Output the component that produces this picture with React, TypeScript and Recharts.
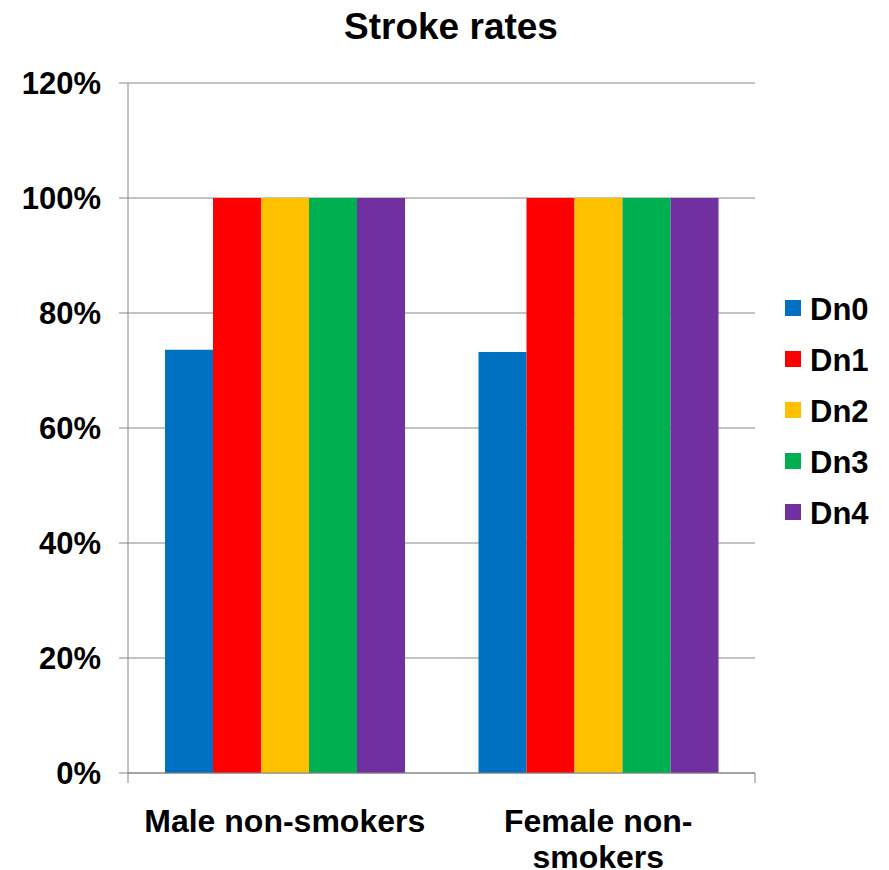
import { BarChart, Bar, XAxis, YAxis, CartesianGrid, Legend } from 'recharts';

const categories = ['Male non-smokers', 'Female non-smokers'];
// how Excel broke the long category names
const categoryLines: Record<string, string[]> = {
  'Male non-smokers': ['Male non-smokers'],
  'Female non-smokers': ['Female non-', 'smokers'],
};

const seriesNames = ['Dn0', 'Dn1', 'Dn2', 'Dn3', 'Dn4'];
const seriesColors = ['#0070C0', '#FF0000', '#FFC000', '#00B050', '#7030A0'];

const dn0 = [0.736, 0.732];
const dn1 = [1.0, 1.0];
const dn2 = [1.0, 1.0];
const dn3 = [1.0, 1.0];
const dn4 = [1.0, 1.0];

const yTicks = [0, 0.2, 0.4, 0.6, 0.8, 1.0, 1.2];

const FONT = '"Liberation Sans", Arial, Helvetica, sans-serif';
const GRID = '#868686';

// axis ids: recharts stacks bottom axes in id order, so the edge axis gets the first one
const EDGE_AXIS = 'a_edge';
const CAT_AXIS = 'b_cat';

const seriesValues = [dn0, dn1, dn2, dn3, dn4];
const data = categories.map((name, i) => {
  const row: Record<string, string | number> = { name };
  seriesNames.forEach((s, j) => {
    row[s] = seriesValues[j][i];
  });
  return row;
});

// tick positions on the category boundaries (0..n)
const edgeTicks = [...categories.map((_, i) => i), categories.length];

function CategoryTick(props: any) {
  const { x, y, payload } = props;
  const lines = categoryLines[payload.value] || [payload.value];
  return (
    <text
      x={x}
      y={y}
      textAnchor="middle"
      fontFamily={FONT}
      fontWeight="bold"
      fontSize={32}
      fill="#000"
    >
      {lines.map((l, i) => (
        <tspan key={i} x={x} dy={i === 0 ? '0.71em' : 36}>
          {l}
        </tspan>
      ))}
    </text>
  );
}

const NoLabel = () => <g />;

function LegendBox() {
  return (
    <div style={{ fontFamily: FONT, fontWeight: 'bold', fontSize: 31 }}>
      {seriesNames.map((s, i) => (
        <div key={s} style={{ display: 'flex', alignItems: 'center', height: 51 }}>
          <span
            style={{
              display: 'inline-block',
              width: 16,
              height: 16,
              background: seriesColors[i],
              marginRight: 9,
              marginTop: -3,
            }}
          />
          <span style={{ lineHeight: '31px', color: '#000' }}>{s}</span>
        </div>
      ))}
    </div>
  );
}

export default function App() {
  return (
    <div style={{ position: 'absolute', left: 0, top: 0, width: 889, height: 870, background: '#fff' }}>
      <div
        style={{
          position: 'absolute',
          left: 0,
          top: 8,
          width: 902,
          textAlign: 'center',
          fontFamily: FONT,
          fontWeight: 'bold',
          fontSize: 37,
          lineHeight: '37px',
          color: '#000',
        }}
      >
        Stroke rates
      </div>
      <BarChart
        width={889}
        height={870}
        data={data}
        margin={{ top: 83, right: 134, bottom: 0, left: 0 }}
        barCategoryGap={37}
        barGap={0}
      >
        <CartesianGrid xAxisId={CAT_AXIS} vertical={false} stroke={GRID} strokeWidth={1} />
        {/* axis line + boundary ticks between the categories */}
        <XAxis
          xAxisId={EDGE_AXIS}
          type="number"
          domain={[0, categories.length]}
          allowDataOverflow
          ticks={edgeTicks}
          tick={NoLabel}
          tickLine={{ stroke: GRID }}
          tickSize={10}
          axisLine={{ stroke: GRID }}
          height={1}
          interval={0}
        />
        <XAxis
          xAxisId={CAT_AXIS}
          dataKey="name"
          height={96}
          tickLine={false}
          tickSize={0}
          tickMargin={35}
          axisLine={false}
          tick={<CategoryTick />}
          interval={0}
        />
        <YAxis
          domain={[0, 1.2]}
          ticks={yTicks}
          width={128}
          tickSize={9}
          tickMargin={18}
          axisLine={{ stroke: GRID }}
          tickLine={{ stroke: GRID }}
          tickFormatter={(v: number) => `${Math.round(v * 100)}%`}
          tick={{ fontFamily: FONT, fontWeight: 'bold', fontSize: 31, fill: '#000' }}
        />
        <Legend
          layout="vertical"
          align="center"
          verticalAlign="middle"
          content={<LegendBox />}
          wrapperStyle={{ left: 785, top: 284, width: 104 }}
        />
        {seriesNames.map((s, i) => (
          <Bar key={s} xAxisId={CAT_AXIS} dataKey={s} fill={seriesColors[i]} isAnimationActive={false} />
        ))}
      </BarChart>
    </div>
  );
}
